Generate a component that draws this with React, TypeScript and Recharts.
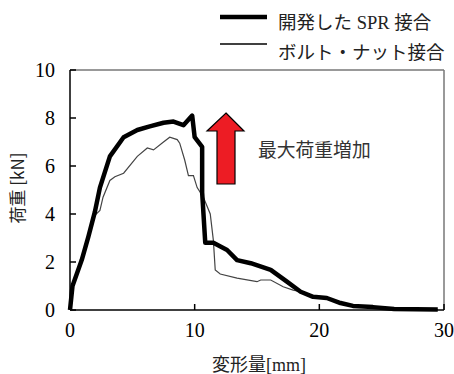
import { LineChart, Line, XAxis, YAxis, ReferenceLine } from 'recharts';

// 開発した SPR 接合 (thick)
const SPR_X = [0, 0.2, 0.94, 1.47, 2.0, 2.4, 3.2, 4.3, 5.4, 6.4, 7.5, 8.3, 9.1, 9.8, 10.0, 10.6, 10.6, 10.85, 11.5, 12.6, 13.4, 14.5, 16.1, 17.4, 18.5, 19.5, 20.6, 21.7, 22.7, 24.3, 26.0, 29.5];
const SPR_Y = [0, 1.0, 2.08, 3.05, 4.1, 5.1, 6.4, 7.2, 7.5, 7.65, 7.8, 7.85, 7.7, 8.1, 7.2, 6.8, 4.9, 2.8, 2.8, 2.5, 2.08, 1.95, 1.67, 1.18, 0.76, 0.55, 0.5, 0.29, 0.17, 0.12, 0.04, 0.02];

// ボルト・ナット接合 (thin)
const BOLT_X = [0, 0.2, 0.94, 1.47, 2.0, 2.4, 2.65, 3.2, 3.6, 4.3, 5.4, 6.2, 6.7, 7.5, 8.0, 8.6, 8.8, 9.2, 9.5, 9.9, 10.2, 10.7, 11.25, 11.5, 11.65, 12.05, 13.4, 15.0, 15.3, 16.1, 17.1, 17.9, 18.5, 19.5, 20.6, 21.7, 22.7, 24.3, 26.0, 29.5];
const BOLT_Y = [0, 1.0, 2.05, 3.0, 3.95, 4.15, 4.7, 5.4, 5.55, 5.7, 6.4, 6.75, 6.67, 7.0, 7.2, 7.1, 6.95, 6.25, 5.6, 5.6, 5.1, 4.7, 4.0, 2.9, 1.67, 1.5, 1.33, 1.18, 1.25, 1.25, 0.97, 0.83, 0.76, 0.55, 0.5, 0.29, 0.17, 0.12, 0.04, 0.02];

const X_TICKS = [0, 10, 20, 30];
const Y_TICKS = [0, 2, 4, 6, 8, 10];

const spr = SPR_X.map((x, i) => ({ x, y: SPR_Y[i] }));
const bolt = BOLT_X.map((x, i) => ({ x, y: BOLT_Y[i] }));

const serif = 'Liberation Serif, Noto Sans CJK JP, serif';
const sans = 'Noto Sans CJK JP, Noto Sans, sans-serif';

const XTick = (props: any) => (
    <text x={props.x} y={props.y} dy="0.71em" textAnchor="middle" fontSize={20} fontFamily="Liberation Serif" fill="#000">
        {props.payload.value}
    </text>
);

const YTick = (props: any) => (
    <text x={props.x} y={props.y} dy="0.35em" textAnchor="end" fontSize={20} fontFamily="Liberation Serif" fill="#000">
        {props.payload.value}
    </text>
);

export default function App() {
    return (
        <div style={{ position: 'absolute', left: 0, top: 0, width: 454, height: 374, background: '#fff' }}>
            <LineChart width={454} height={374} data={spr} margin={{ top: 70, right: 10, left: 0, bottom: 0 }}>
                <XAxis
                    type="number"
                    dataKey="x"
                    domain={[0, 30]}
                    ticks={X_TICKS}
                    height={64}
                    stroke="#000"
                    strokeWidth={1.5}
                    tickSize={-6}
                    tickMargin={19}
                    tick={XTick}
                />
                <YAxis
                    type="number"
                    dataKey="y"
                    domain={[0, 10]}
                    ticks={Y_TICKS}
                    width={70}
                    stroke="#000"
                    strokeWidth={1.5}
                    tickSize={-6}
                    tickMargin={21}
                    tick={YTick}
                />
                <ReferenceLine y={10} stroke="#777" strokeWidth={1.5} />
                <ReferenceLine x={30} stroke="#777" strokeWidth={1.5} />
                <Line data={bolt} dataKey="y" type="linear" stroke="#444" strokeWidth={1.2} dot={false} isAnimationActive={false} />
                <Line data={spr} dataKey="y" type="linear" stroke="#000" strokeWidth={4.5} dot={false} isAnimationActive={false} strokeLinejoin="round" />
            </LineChart>
            <svg width={454} height={374} style={{ position: 'absolute', left: 0, top: 0, pointerEvents: 'none' }}>
                {/* legend */}
                <line x1={220} x2={267} y1={17} y2={17} stroke="#000" strokeWidth={4.5} />
                <text x={278} y={29} fontSize={18.5} fontFamily={serif} fill="#222">開発した SPR 接合</text>
                <line x1={220} x2={267} y1={44} y2={44} stroke="#000" strokeWidth={1.5} />
                <text x={278} y={59} fontSize={18.5} fontFamily={sans} fill="#222">ボルト・ナット接合</text>
                {/* arrow */}
                <polygon points="226,113 244,131 235,131 235,184 217,184 217,131 207,131" fill="#ed1c24" stroke="#000" strokeWidth={1.2} />
                <text x={258} y={157} fontSize={18.8} fontFamily={sans} fill="#333">最大荷重増加</text>
                {/* axis labels */}
                <text x={212} y={371} fontSize={18} fontFamily={serif} fill="#222">変形量[mm]</text>
                <text transform="translate(24,188) rotate(-90)" textAnchor="middle" fontSize={17} fontFamily={sans} fill="#222">荷重 [kN]</text>
            </svg>
        </div>
    );
}
